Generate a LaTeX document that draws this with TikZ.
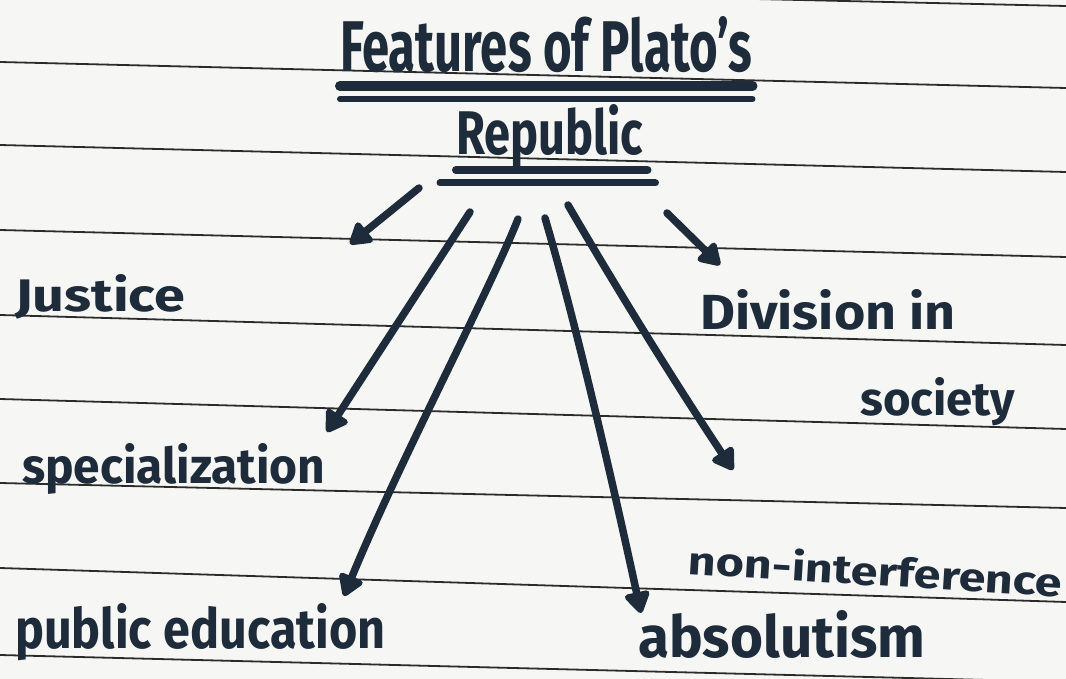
\documentclass[tikz,border=0pt]{standalone}
\usepackage{fontspec}
\setmainfont{Fira Sans}
\usetikzlibrary{arrows.meta}
\definecolor{ink}{HTML}{1E2B3A}
\definecolor{rule}{HTML}{2B2B2B}
\definecolor{paper}{HTML}{F6F6F4}
\newcommand{\hw}[3]{\resizebox{#1}{#2}{#3}}
\tikzset{
  lbl/.style={inner sep=0pt, anchor=base west, text=ink, font=\bfseries},
  ruled/.style={draw=rule, line width=1.8pt},
  uline/.style={draw=ink, line width=8pt, line cap=round},
  arr/.style={draw=ink, line width=7.5pt, line cap=round,
    -{Triangle[length=24pt,width=28pt,round]}},
}
\begin{document}
\begin{tikzpicture}[x=1pt,y=-1pt]
\useasboundingbox (0,0) rectangle (1066,679);
\fill[paper] (0,0) rectangle (1066,679);
\begin{scope}
\clip (0,0) rectangle (1066,679);
% ruled lines of the paper
\draw[ruled] (0,-18) -- (1066,6);
\draw[ruled] (0,62) -- (1066,88);
\draw[ruled] (0,145) -- (1066,172);
\draw[ruled] (0,230) -- (1066,257);
\draw[ruled] (0,315) -- (1066,345);
\draw[ruled] (0,399) -- (1066,429);
\draw[ruled] (0,483) -- (1066,508);
\draw[ruled] (0,568) -- (1066,602);
\draw[ruled] (0,655) -- (1066,682);
\end{scope}

% title
\node[lbl] (title1) at (340,72) {\hw{412pt}{55pt}{Features of Plato's}};
\node[lbl] (title2) at (456,155) {\hw{187pt}{50pt}{Republic}};
\draw[uline, line width=10pt] ([yshift=-14pt]title1.base west) -- ([yshift=-14pt]title1.base east);
\draw[uline, line width=6pt] ([yshift=-27pt]title1.base west) -- ([yshift=-27pt]title1.base east);
\draw[uline] ([yshift=-15pt]title2.base west) -- ([xshift=4pt,yshift=-15pt]title2.base east);
\draw[uline, line width=7pt] ([xshift=-16pt,yshift=-28pt]title2.base west) -- ([xshift=12pt,yshift=-28pt]title2.base east);

% labels
\node[lbl] (justice) at (15,312) {\hw{170pt}{37pt}{Justice}};
\node[lbl] (division) at (700,330) {\hw{255pt}{40pt}{Division in}};
\node[lbl] (society) at (860,415) {\hw{155pt}{38pt}{society}};
\node[lbl] (special) at (22,483) {\hw{303pt}{40pt}{specialization}};
\node[lbl] (public) at (15,648) {\hw{370pt}{45pt}{public education}};
\node[lbl, rotate=-3.5] (nonint) at (687,574) {\hw{375pt}{32pt}{non-interference}};
\node[lbl] (absol) at (638,657) {\hw{287pt}{47pt}{absolutism}};

% arrow end points
\coordinate (s1) at (419,188);
\coordinate (e1) at (350,244);
\coordinate (s2) at (470,212);
\coordinate (e2) at (327,432);
\coordinate (s3) at (518,219);
\coordinate (e3) at (344,596);
\coordinate (s4) at (545,218);
\coordinate (e4) at (641,613);
\coordinate (s5) at (568,205);
\coordinate (e5) at (733,470);
\coordinate (s6) at (667,213);
\coordinate (e6) at (720,265);

\draw[arr] (s1) -- (e1);
\draw[arr] (s2) -- (e2);
\draw[arr] (s3) .. controls (490,290) and (400,460) .. (e3);
\draw[arr] (s4) .. controls (575,320) and (610,470) .. (e4);
\draw[arr] (s5) .. controls (600,260) and (660,360) .. (e5);
\draw[arr] (s6) -- (e6);
\end{tikzpicture}
\end{document}
